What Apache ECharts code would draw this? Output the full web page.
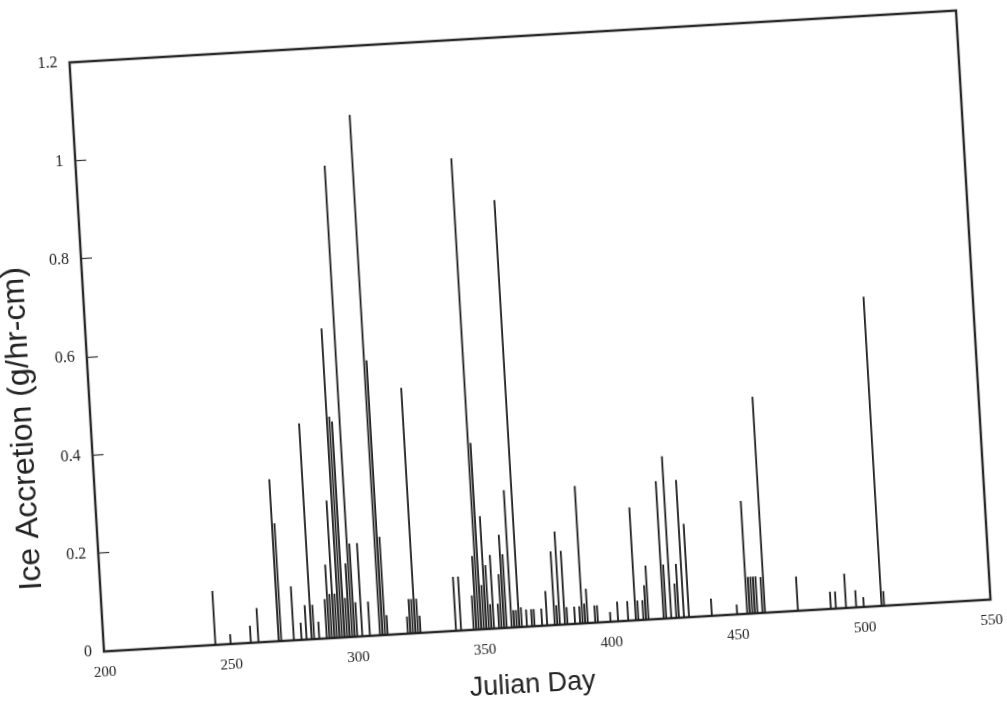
<!DOCTYPE html>
<html>
<head>
<meta charset="utf-8">
<script src="https://cdn.jsdelivr.net/npm/echarts@6/dist/echarts.min.js"></script>
<style>
  html, body { margin: 0; padding: 0; background: #fff; overflow: hidden; }
  #chart {
    width: 1007px; height: 702px;
    transform: rotate(-3.35deg);
    transform-origin: 530px 331px;
  }
</style>
</head>
<body>
<div id="chart"></div>
<script>
// Julian day of each ice accretion event
const days = [
  244, 250, 258, 261, 269, 270, 275, 278, 280, 282, 283, 285, 288, 289, 290, 291, 292,
  293, 294, 295, 296, 297, 298, 299, 300, 302, 305, 309, 310, 311, 312, 320, 321, 322,
  323, 324, 325, 339, 341, 346, 347, 348, 349, 350, 351, 352, 353, 354, 356, 357, 358,
  359, 361, 362, 363, 364, 365, 367, 369, 370, 373, 375, 378, 379, 380, 382, 383, 386,
  388, 389, 390, 391, 394, 395, 400, 403, 407, 410, 411, 413, 414, 415, 421, 422, 424,
  426, 427, 429, 431, 440, 450, 454, 455, 456, 457, 458, 460, 461, 474, 487, 489, 493,
  497, 500, 507, 508
];
// Ice accretion rate (g/hr-cm) on each of those days
const accretion = [
  0.11, 0.02, 0.035, 0.07, 0.33, 0.24, 0.11, 0.035, 0.07, 0.44, 0.07, 0.035, 0.08, 0.15, 0.09, 0.28, 0.09,
  0.63, 0.45, 0.44, 0.08, 0.15, 0.96, 0.19, 0.07, 0.19, 0.07, 1.06, 0.56, 0.2, 0.04, 0.035, 0.07, 0.07,
  0.5, 0.07, 0.035, 0.11, 0.11, 0.07, 0.15, 0.96, 0.38, 0.09, 0.23, 0.13, 0.05, 0.15, 0.05, 0.11, 0.19,
  0.15, 0.28, 0.035, 0.035, 0.87, 0.04, 0.035, 0.035, 0.035, 0.035, 0.07, 0.15, 0.04, 0.19, 0.15, 0.035, 0.035,
  0.035, 0.28, 0.04, 0.07, 0.035, 0.035, 0.02, 0.04, 0.04, 0.23, 0.04, 0.04, 0.07, 0.11, 0.28, 0.11, 0.33,
  0.07, 0.11, 0.28, 0.19, 0.035, 0.02, 0.23, 0.075, 0.075, 0.075, 0.075, 0.073, 0.44, 0.07, 0.035, 0.035, 0.07,
  0.035, 0.02, 0.63, 0.03
];
const xTicks = [200, 250, 300, 350, 400, 450, 500, 550];
const yTicks = [0, 0.2, 0.4, 0.6, 0.8, 1, 1.2];

const points = days.map((d, i) => [d, accretion[i]]);

const chart = echarts.init(document.getElementById('chart'), null, { renderer: 'canvas' });
const G = { left: 86, top: 36, width: 888, height: 590 };

chart.setOption({
  animation: false,
  backgroundColor: '#ffffff',
  grid: {
    left: G.left, top: G.top, width: G.width, height: G.height,
    show: true, borderColor: '#2a2a2a', borderWidth: 2.4, backgroundColor: 'transparent'
  },
  xAxis: {
    type: 'value',
    min: xTicks[0], max: xTicks[xTicks.length - 1], interval: 50,
    axisLine: { show: false },
    axisTick: { show: false },
    splitLine: { show: false },
    axisLabel: {
      margin: 14, color: '#222',
      fontFamily: 'Liberation Serif', fontSize: 15
    }
  },
  yAxis: {
    type: 'value',
    min: yTicks[0], max: yTicks[yTicks.length - 1], interval: 0.2,
    axisLine: { show: false },
    axisTick: { show: true, inside: true, length: 11, lineStyle: { color: '#333', width: 1.2 } },
    splitLine: { show: false },
    axisLabel: {
      margin: 12, color: '#222',
      fontFamily: 'Liberation Serif', fontSize: 16
    }
  },
  graphic: [
    {
      type: 'text', x: 18, y: 399, rotation: Math.PI / 2,
      style: {
        text: 'Ice Accretion (g/hr-cm)', fill: '#222',
        font: '32px "Liberation Sans"', textAlign: 'center', textVerticalAlign: 'middle'
      }
    },
    {
      type: 'text', x: 512, y: 685,
      style: {
        text: 'Julian Day', fill: '#222',
        font: '27px "Liberation Sans"', textAlign: 'center', textVerticalAlign: 'middle'
      }
    }
  ],
  series: [{
    type: 'bar',
    data: points,
    barWidth: 1.8,
    itemStyle: { color: '#1e1e1e' },
    emphasis: { disabled: true }
  }]
});
</script>
</body>
</html>
